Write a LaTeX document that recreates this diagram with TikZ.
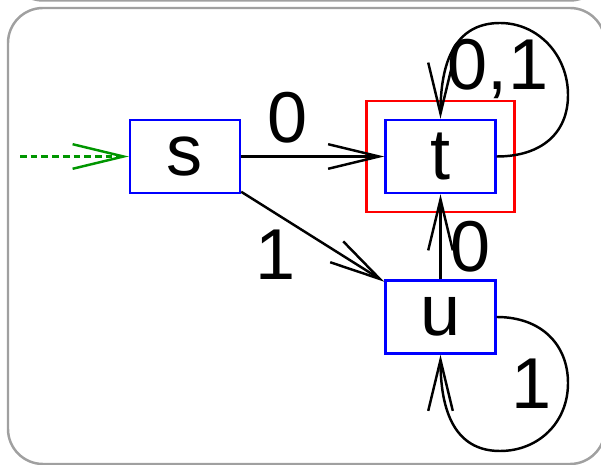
\documentclass[tikz,border=0pt]{standalone}
\usepackage{fontspec}
\setmainfont{Liberation Sans}
\usetikzlibrary{arrows.meta,fit}
\definecolor{initgreen}{RGB}{0,150,0}
\definecolor{framegray}{RGB}{160,160,160}

\begin{document}
\begin{tikzpicture}[x=0.02cm, y=-0.02cm,
  state/.style={draw=blue, line width=1.4pt, minimum width=2.2cm, minimum height=1.46cm, inner sep=0pt, font=\fontsize{41}{49}\selectfont},
  lbl/.style={anchor=base, inner sep=0pt, font=\fontsize{41}{49}\selectfont},
  ar/.style={-{Straight Barb[length=29pt, width=14pt]}, line width=1.4pt}]

\useasboundingbox (0,0) rectangle (601,465);
\clip (0,0) rectangle (601,465);
\draw[framegray, line width=1.4pt, rounded corners=0.7cm] (8,-456) rectangle (605,0.5);
\draw[framegray, line width=1.4pt, rounded corners=0.7cm] (8,8) rectangle (605,464);

\node[state] (s) at (185,156.5) {s};
\node[state] (t) at (440.5,156.5) {t};
\node[state] (u) at (440.5,317) {u};
\node[draw=red, line width=1.4pt, fit=(t), inner sep=0.36cm] (tacc) {};

\coordinate (init) at (20,156.5);
\draw[ar, initgreen, dash pattern=on 3.8pt off 2.3pt] (init) -- (s);

\draw[ar] (s) -- (t) node[lbl] at (288,143) {0};
\draw[ar] (s) -- (u) node[lbl] at (276,280) {1};
\draw[ar] (u) -- (t) node[lbl] at (471,272) {0};
% self loops
\draw[ar] (t.east) .. controls +(45,0) and +(0,38) .. (568,95)
  .. controls +(0,-40) and +(38,0) .. (500,23)
  .. controls +(-40,0) and +(0,-65) .. (t.north) node[lbl] at (498,90) {0,1};
\draw[ar] (u.east) .. controls +(45,0) and +(0,-38) .. (568,383)
  .. controls +(0,40) and +(38,0) .. (500,451)
  .. controls +(-40,0) and +(0,65) .. (u.south) node[lbl] at (532,408) {1};
\end{tikzpicture}
\end{document}
